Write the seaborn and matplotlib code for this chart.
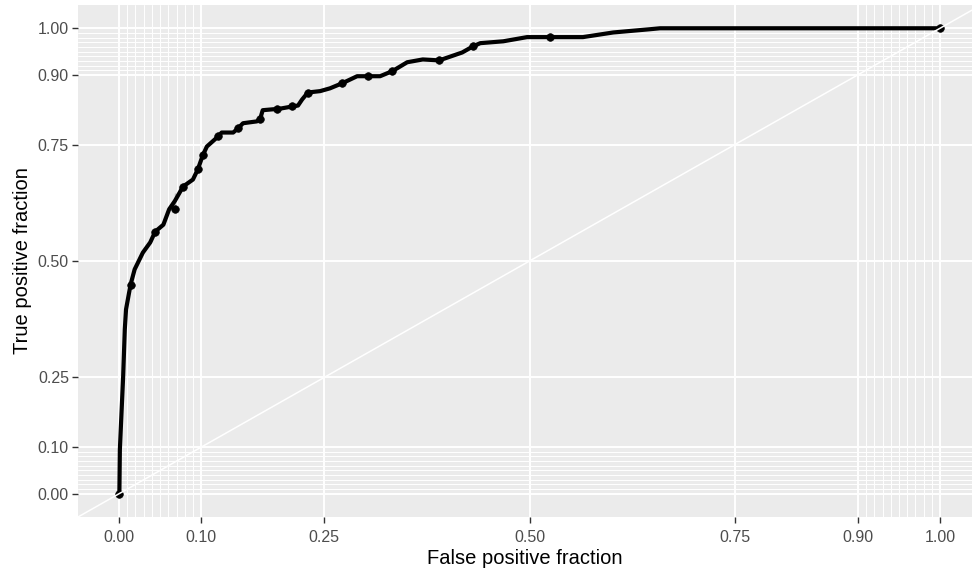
import numpy as np
import pandas as pd
import matplotlib
matplotlib.use("Agg")
import matplotlib.pyplot as plt
import seaborn as sns

# ROC curve path
fpf = [0.0, 0.0004, 0.001, 0.003, 0.005, 0.007, 0.0085, 0.014, 0.019, 0.029,
       0.038, 0.044, 0.054, 0.061, 0.068, 0.068, 0.078, 0.090, 0.096, 0.099,
       0.102, 0.107, 0.121, 0.125, 0.139, 0.145, 0.151, 0.168, 0.172, 0.175,
       0.188, 0.192, 0.211, 0.218, 0.223, 0.230, 0.245, 0.257, 0.272, 0.290,
       0.303, 0.318, 0.333, 0.351, 0.370, 0.390, 0.418, 0.431, 0.440, 0.468,
       0.497, 0.525, 0.565, 0.602, 0.647, 0.659, 1.0]
tpf = [0.0, 0.002, 0.095, 0.174, 0.252, 0.353, 0.396, 0.449, 0.482, 0.518,
       0.540, 0.563, 0.578, 0.611, 0.611, 0.647, 0.660, 0.675, 0.697, 0.712,
       0.727, 0.746, 0.768, 0.776, 0.776, 0.785, 0.796, 0.800, 0.806, 0.824,
       0.826, 0.826, 0.832, 0.834, 0.847, 0.862, 0.865, 0.871, 0.882, 0.897,
       0.897, 0.897, 0.908, 0.927, 0.933, 0.931, 0.948, 0.961, 0.968, 0.972,
       0.981, 0.981, 0.981, 0.991, 0.998, 1.0, 1.0]

# cutoff points shown as dots
cut_fpf = [0.0, 0.014, 0.044, 0.068, 0.078, 0.096, 0.102, 0.121, 0.145, 0.172,
           0.192, 0.211, 0.230, 0.272, 0.303, 0.333, 0.390, 0.431, 0.525, 1.0]
cut_tpf = [0.0, 0.449, 0.563, 0.611, 0.660, 0.697, 0.727, 0.768, 0.785, 0.806,
           0.826, 0.832, 0.862, 0.882, 0.897, 0.908, 0.931, 0.961, 0.981, 1.0]

major_breaks = [0, 0.1, 0.25, 0.5, 0.75, 0.9, 1]
break_labels = ["0.00", "0.10", "0.25", "0.50", "0.75", "0.90", "1.00"]
minor_breaks = list(np.round(np.arange(0, 0.101, 0.01), 2)) + list(np.round(np.arange(0.9, 1.001, 0.01), 2))

roc = pd.DataFrame({"fpf": fpf, "tpf": tpf})
cuts = pd.DataFrame({"fpf": cut_fpf, "tpf": cut_tpf})

sns.set_theme(style="darkgrid")
plt.rcParams["font.family"] = ["Liberation Sans", "DejaVu Sans"]

fig = plt.figure(figsize=(9.72, 5.72), dpi=100)
ax = fig.add_axes([78 / 972, 1 - 517 / 572, 1 - 78 / 972, 512 / 572])
ax.set_facecolor("#EBEBEB")

sns.lineplot(data=roc, x="fpf", y="tpf", sort=False, color="black", linewidth=3.0, ax=ax, zorder=3)
sns.scatterplot(data=cuts, x="fpf", y="tpf", color="black", s=30, edgecolor="black", linewidth=0.5, ax=ax, zorder=4)
ax.axline((0, 0), (1, 1), color="white", linewidth=1.1, zorder=5)

ax.set_xlim(-0.05, (972 - 119) / 821)
ax.set_ylim(-0.05, 1.05)
ax.set_xticks(major_breaks)
ax.set_xticklabels(break_labels)
ax.set_yticks(major_breaks)
ax.set_yticklabels(break_labels)
ax.set_xticks(minor_breaks, minor=True)
ax.set_yticks(minor_breaks, minor=True)

ax.grid(which="major", color="white", linewidth=1.4)
ax.grid(which="minor", color="white", linewidth=0.7)
ax.set_axisbelow(True)
for s in ax.spines.values():
    s.set_visible(False)

ax.tick_params(which="major", length=4, width=1.0, color="#333333", labelcolor="#4D4D4D", labelsize=11.5, pad=2.5)
ax.tick_params(which="minor", length=0)
ax.tick_params(axis="x", bottom=True, pad=5)
ax.tick_params(axis="y", left=True)

ax.set_xlabel("False positive fraction", fontsize=14.5, color="black", labelpad=3)
ax.set_ylabel("True positive fraction", fontsize=14.5, color="black", labelpad=4)

fig.savefig("out.png", dpi=100)
